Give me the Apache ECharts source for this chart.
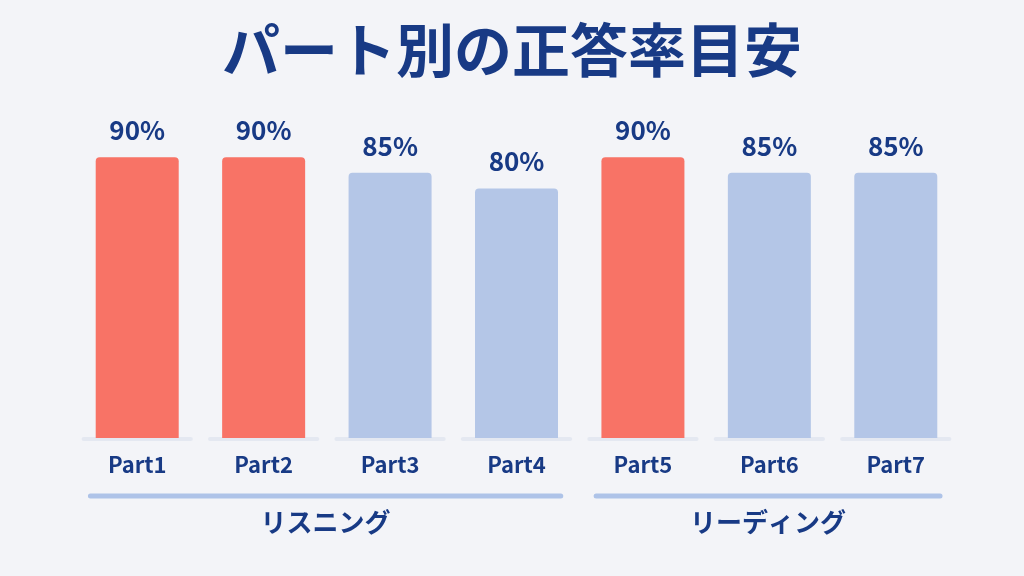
<!DOCTYPE html>
<html><head><meta charset="utf-8">
<script src="https://cdn.jsdelivr.net/npm/echarts@6/dist/echarts.min.js"></script>
<style>html,body{margin:0;padding:0;background:#F3F4F8;}#c{width:1024px;height:576px;}</style>
</head><body><div id="c"></div>
<script>
const titleText = 'パート別の正答率目安';
const categories = ['Part1','Part2','Part3','Part4','Part5','Part6','Part7'];
const values = [90, 90, 85, 80, 90, 85, 85];
const highlighted = [true, true, false, false, true, false, false];
const groupNames = ['リスニング', 'リーディング'];
const groupStart = [0, 4];
const groupEnd = [3, 6];

const NAVY = '#183A85', RED = '#F87366', BLUE = '#B4C6E7', FONT = '"Noto Sans CJK JP", "Noto Sans", sans-serif';

const chart = echarts.init(document.getElementById('c'));
chart.setOption({
  backgroundColor: '#F3F4F8',
  animation: false,
  title: { text: titleText, left: 'center', top: 16,
    textStyle: { fontSize: 58, fontWeight: 'bold', color: NAVY, fontFamily: FONT } },
  grid: { left: 74, right: 65, top: 126, bottom: 138 },
  xAxis: { type: 'category', data: categories,
    axisLine: { show: false }, axisTick: { show: false },
    axisLabel: { color: NAVY, fontSize: 22, fontWeight: 'bold', fontFamily: FONT, margin: 16 } },
  yAxis: { type: 'value', min: 0, max: 100, show: false, splitLine: { show: false } },
  series: [
    { type: 'custom', z: 1, clip: false,
      data: categories.map((c, i) => [i, 0]),
      encode: { x: 0, y: 1 },
      renderItem: function (params, api) {
        const p = api.coord([api.value(0), 0]);
        const bw = api.size([1, 0])[0];
        const w = bw * 0.88;
        return { type: 'rect', shape: { x: p[0] - w / 2, y: p[1] - 1, width: w, height: 4, r: 2 },
          style: { fill: '#E4E8F1' } };
      } },
    { type: 'bar', z: 2, barWidth: 83,
      data: values.map((v, i) => ({ value: v, itemStyle: { color: highlighted[i] ? RED : BLUE } })),
      itemStyle: { borderRadius: [4, 4, 0, 0] },
      label: { show: true, position: 'top', distance: 14, formatter: '{c}%',
        color: NAVY, fontSize: 26, fontWeight: 'bold', fontFamily: FONT } },
    { type: 'custom', z: 3, clip: false,
      data: groupNames.map((n, i) => ({ name: n, value: [groupStart[i], groupEnd[i], 0] })),
      encode: { x: [0, 1], y: 2 },
      renderItem: function (params, api) {
        const a = api.coord([api.value(0), 0]);
        const b = api.coord([api.value(1), 0]);
        const bw = api.size([1, 0])[0];
        const x1 = a[0] - bw * 0.37, x2 = b[0] + bw * 0.35;
        const ly = a[1] + 58;
        return { type: 'group', children: [
          { type: 'line', shape: { x1: x1, y1: ly, x2: x2, y2: ly },
            style: { stroke: '#AEC3E8', lineWidth: 5, lineCap: 'round' } },
          { type: 'text', style: { text: groupNames[params.dataIndex], x: (x1 + x2) / 2, y: ly + 26,
            align: 'center', verticalAlign: 'middle', fill: NAVY,
            fontSize: 26, fontWeight: 'bold', fontFamily: FONT } }
        ] };
      } }
  ]
});
</script></body></html>
